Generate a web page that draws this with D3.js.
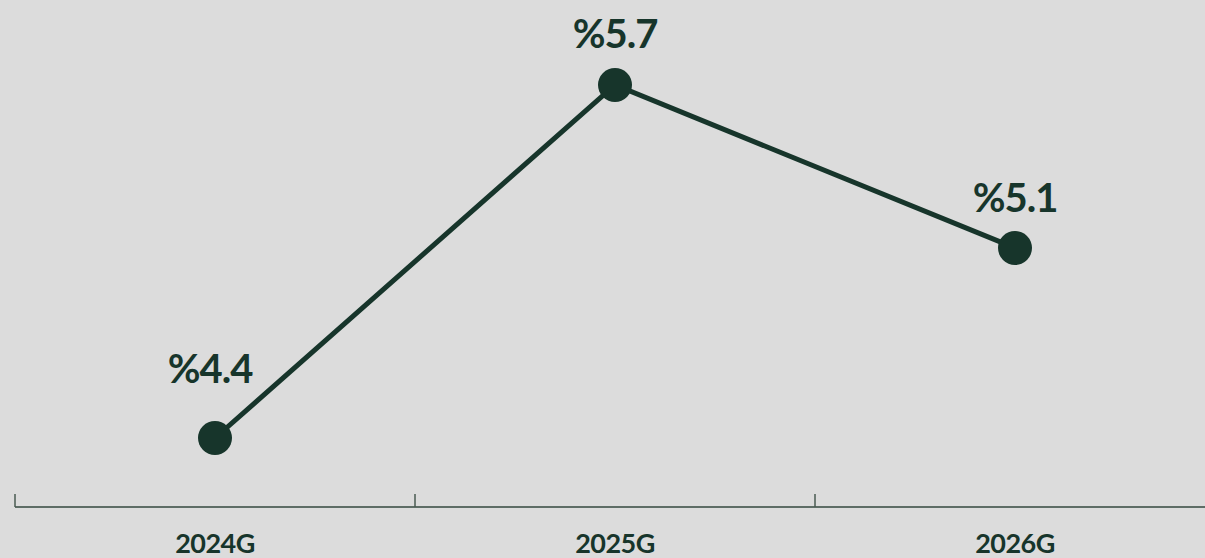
<!DOCTYPE html>
<html>
<head>
<meta charset="utf-8">
<script src="https://cdn.jsdelivr.net/npm/d3@7"></script>
<style>
  html, body { margin: 0; padding: 0; background: #dcdcdc; }
  svg { display: block; }
</style>
</head>
<body>
<div id="chart"></div>
<script>
// data
const years = ['2024G', '2025G', '2026G'];
const growth = [4.4, 5.7, 5.1];
const valueLabels = ['%4.4', '%5.7', '%5.1'];

const width = 1205;
const height = 558;
const ink = '#17352b';

const svg = d3.select('#chart')
    .append('svg')
    .attr('width', width)
    .attr('height', height);

svg.append('rect')
    .attr('width', width)
    .attr('height', height)
    .style('fill', '#dcdcdc');

const x = d3.scaleBand()
    .domain(years)
    .range([15, 1215])
    .padding(0);

const y = d3.scaleLinear()
    .domain([4.4, 5.7])
    .range([438, 85]);

// x axis
const axis = svg.append('g')
    .attr('transform', 'translate(0,507)')
    .call(d3.axisBottom(x).tickSize(0).tickFormat(''));

axis.select('.domain')
    .attr('d', 'M15,0H1205')
    .style('stroke', '#34493f')
    .style('stroke-width', 1.5);

// tick marks on band edges
svg.selectAll('.edge')
    .data(years)
    .enter().append('line')
    .attr('class', 'edge')
    .attr('x1', (d) => { return x(d) })
    .attr('x2', (d) => { return x(d) })
    .attr('y1', 494)
    .attr('y2', 507)
    .style('stroke', '#4a5b52')
    .style('stroke-width', 1.5);

svg.selectAll('.year')
    .data(years)
    .enter().append('text')
    .attr('class', 'year')
    .attr('x', (d) => { return x(d) + x.bandwidth() / 2 })
    .attr('y', 553)
    .attr('text-anchor', 'middle')
    .style('font-family', 'Lato, sans-serif')
    .style('font-weight', 'bold')
    .style('font-size', '27px')
    .style('letter-spacing', '-0.5px')
    .style('fill', ink)
    .text((d) => { return d });

const points = years.map((d, i) => { return { year: d, value: growth[i], label: valueLabels[i] } });

const line = d3.line()
    .x((d) => { return x(d.year) + x.bandwidth() / 2 })
    .y((d) => { return y(d.value) });

svg.append('path')
    .datum(points)
    .attr('d', line)
    .style('fill', 'none')
    .style('stroke', ink)
    .style('stroke-width', 5);

svg.selectAll('.dot')
    .data(points)
    .enter().append('circle')
    .attr('class', 'dot')
    .attr('cx', (d) => { return x(d.year) + x.bandwidth() / 2 })
    .attr('cy', (d) => { return y(d.value) })
    .attr('r', 17)
    .style('fill', ink);

// first label sits higher above its point
const labelGap = [55, 37, 36];
const labelShift = [-5, 0, 0];

svg.selectAll('.val')
    .data(points)
    .enter().append('text')
    .attr('class', 'val')
    .attr('x', (d, i) => { return x(d.year) + x.bandwidth() / 2 + labelShift[i] })
    .attr('y', (d, i) => { return y(d.value) - labelGap[i] })
    .attr('text-anchor', 'middle')
    .style('font-family', 'Lato, sans-serif')
    .style('font-weight', 'bold')
    .style('font-size', '40px')
    .style('letter-spacing', '-1px')
    .style('fill', ink)
    .text((d) => { return d.label });
</script>
</body>
</html>
